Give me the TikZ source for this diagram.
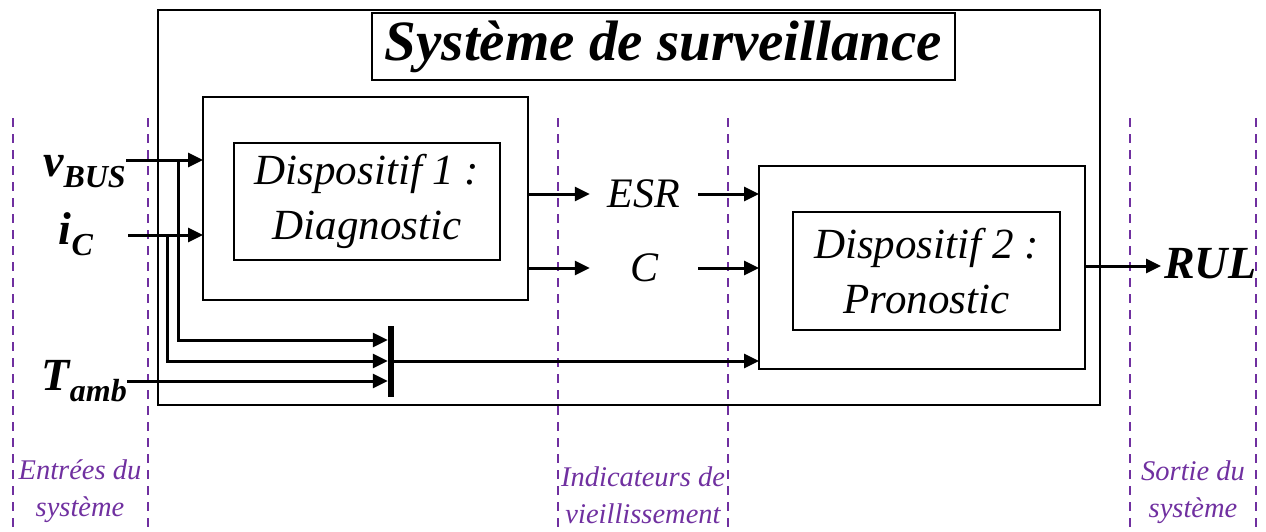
\documentclass[tikz,border=0pt]{standalone}
\usepackage{fontspec}
\setmainfont{Liberation Serif}
\usetikzlibrary{arrows.meta}
\definecolor{zonecol}{RGB}{112,48,160}
\newcommand{\sigsub}[2]{#1\raisebox{-0.26em}{\fontsize{32}{32}\selectfont #2}}

\tikzset{
  box/.style={draw, line width=2, inner sep=0, outer sep=0},
  dev text/.style={font=\fontsize{43}{55}\selectfont\itshape, align=center},
  link/.style={line width=3, -{Triangle[length=15,width=14]}},
  sig/.style={inner sep=0, font=\fontsize{46}{48}\selectfont\bfseries\itshape},
  ind/.style={inner sep=0, font=\fontsize{42}{44}\selectfont\itshape},
  zone/.style={text=zonecol, font=\fontsize{28.5}{37}\selectfont\itshape, align=center},
  zone line/.style={draw=zonecol, line width=2.5, dash pattern=on 9 off 7}
}

\begin{document}
\begin{tikzpicture}[x=1pt,y=1pt,yscale=-1,xscale=1]
\useasboundingbox (0,0) rectangle (1266,531);

% zones
\foreach \x in {13,148,558,728,1130,1256}
  \draw[zone line] (\x,118) -- (\x,531);
\node[zone] (zin) at (80,491) {Entrées du\\système};
\node[zone] (zind) at (643,495) {Indicateurs de\\vieillissement};
\node[zone] (zout) at (1193,492) {Sortie du\\système};

% monitoring system
\node[box, minimum width=942, minimum height=395] (surv) at (629,207.5) {};
\node[box, minimum width=583, minimum height=67, font=\fontsize{57}{60}\selectfont\bfseries\itshape] (title) at (663.5,46.5) {Système de surveillance};

% devices
\node[box, minimum width=325, minimum height=203] (d1) at (365.5,198.5) {};
\node[box, dev text, minimum width=266, minimum height=117] (diag) at (367,201.5) {Dispositif 1 :\\Diagnostic};
\node[box, minimum width=326, minimum height=203] (d2) at (922,267.5) {};
\node[box, dev text, minimum width=267, minimum height=118] (prog) at (926.5,271) {Dispositif 2 :\\Pronostic};

% signals
\node[sig, anchor=base east] (vbus) at (126,176) {\sigsub{v}{BUS}};
\node[sig, anchor=base] (ic) at (76,244) {\sigsub{i}{C}};
\node[sig, anchor=base east] (tamb) at (127,390) {\sigsub{T}{amb}};
\node[sig, anchor=base west] (rul) at (1164,278) {RUL};
\node[ind, minimum width=108] (esr) at (644,194) {ESR};
\node[ind, minimum width=108] (cap) at (644,268) {C};
\node[fill, inner sep=0, minimum width=6, minimum height=71] (bar) at (391,361.5) {};
\coordinate (iin) at (128,235);
\coordinate (jv) at (178,160);
\coordinate (ji) at (167,235);

\draw[link] (vbus.east |- 0,160) -- (d1.west |- 0,160);
\draw[link] (iin) -- (d1.west |- iin);
\draw[link] (jv) |- (bar.west |- 0,340);
\draw[link] (ji) |- (bar.west |- 0,361);
\draw[link] (tamb.east |- 0,381) -- (bar.west |- 0,381);
\draw[link] (bar.east |- 0,361) -- (d2.west |- 0,361);
\draw[link] (d1.east |- esr) -- (esr.west);
\draw[link] (esr.east) -- (d2.west |- esr);
\draw[link] (d1.east |- cap) -- (cap.west);
\draw[link] (cap.east) -- (d2.west |- cap);
\draw[link, shorten >=3] (d2.east |- 0,266) -- (rul.west |- 0,266);

\end{tikzpicture}
\end{document}
